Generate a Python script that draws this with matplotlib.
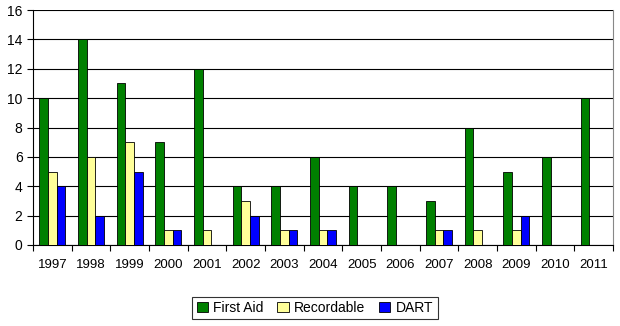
import matplotlib
matplotlib.use("Agg")
import matplotlib.pyplot as plt
import numpy as np

years = ["1997", "1998", "1999", "2000", "2001", "2002", "2003", "2004",
         "2005", "2006", "2007", "2008", "2009", "2010", "2011"]
first_aid = [10, 14, 11, 7, 12, 4, 4, 6, 4, 4, 3, 8, 5, 6, 10]
recordable = [5, 6, 7, 1, 1, 3, 1, 1, 0, 0, 1, 1, 1, 0, 0]
dart = [4, 2, 5, 1, 0, 2, 1, 1, 0, 0, 1, 0, 2, 0, 0]

series = [("First Aid", first_aid, "#008000"),
          ("Recordable", recordable, "#FFFF99"),
          ("DART", dart, "#0000FF")]

plt.rcParams["font.family"] = ["Liberation Sans", "DejaVu Sans"]

fig = plt.figure(figsize=(6.2, 3.26), dpi=100)
ax = fig.add_axes([33 / 620, 1 - 245 / 326, 580 / 620, 235 / 326])

x = np.arange(len(years))
w = 0.225
for i, (name, vals, col) in enumerate(series):
    ax.bar(x + (i - 1) * w, vals, width=w, color=col, edgecolor="black",
           linewidth=0.6, label=name, zorder=3)

ax.set_xlim(-0.5, len(years) - 0.5)
ax.set_ylim(0, 16)
ax.set_yticks(range(0, 17, 2))
ax.yaxis.grid(True, color="black", linewidth=0.8, zorder=0)
ax.set_axisbelow(True)

ax.set_xticks(x)
ax.set_xticklabels(years)
ax.tick_params(axis="x", which="major", length=0, pad=10, labelsize=9.5)
ax.set_xticks(np.arange(-0.5, len(years), 1), minor=True)
ax.tick_params(axis="x", which="minor", length=4, width=0.8, direction="out")
ax.tick_params(axis="y", length=4, width=0.8, direction="out", labelsize=10)

ax.spines["top"].set_visible(False)
for s in ("left", "right", "bottom"):
    ax.spines[s].set_color("black")
    ax.spines[s].set_linewidth(0.8)
ax.spines["right"].set_color("#888888")

leg = fig.legend(loc="center", bbox_to_anchor=(315 / 620, 1 - 308 / 326),
                 ncol=3, frameon=True, fancybox=False, fontsize=10,
                 handlelength=0.8, handleheight=0.8, handletextpad=0.4,
                 columnspacing=1.0, borderpad=0.3, edgecolor="black")
leg.get_frame().set_linewidth(0.8)

fig.savefig("out.png", dpi=100)
